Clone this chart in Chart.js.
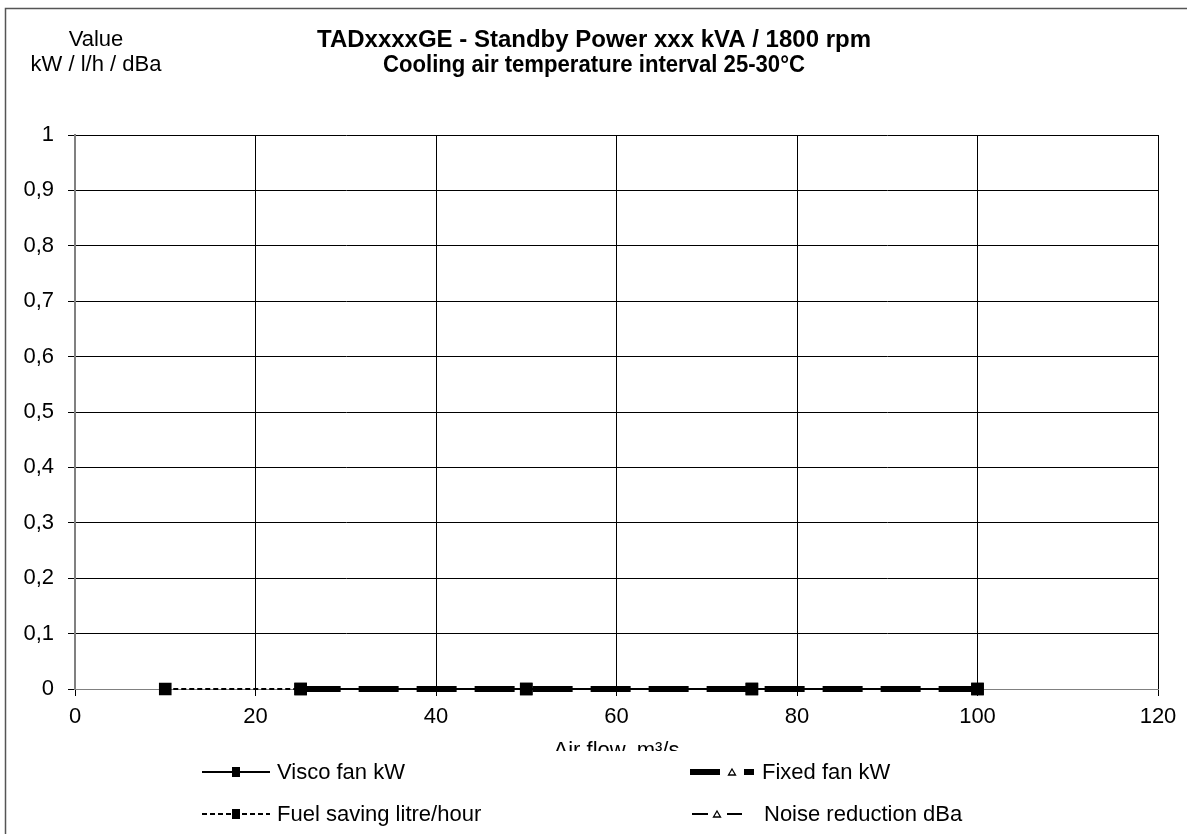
<!DOCTYPE html>
<html>
<head>
<meta charset="utf-8">
<script src="https://cdn.jsdelivr.net/npm/chart.js@4.4.1/dist/chart.umd.min.js"></script>
<style>
  html, body { margin: 0; padding: 0; background: #fff; }
  #wrap { width: 1187px; height: 834px; }
</style>
</head>
<body>
<div id="wrap"><canvas id="chart" width="1187" height="834"></canvas></div>
<script>
let titulo = ["TADxxxxGE - Standby Power xxx kVA / 1800 rpm", "Cooling air temperature interval 25-30°C"]
let titulo_y = ["Value", "kW / l/h / dBa"]
let titulo_x = "Air flow, m³/s"
let nomes = ["Visco fan kW", "Fixed fan kW", "Fuel saving litre/hour", "Noise reduction dBa"]
let fluxo_visco = [25, 50, 75, 100]
let valor_visco = [0, 0, 0, 0]
let fluxo_fixo = [25, 50, 75, 100]
let valor_fixo = [0, 0, 0, 0]
let fluxo_comb = [10, 25, 50, 75, 100]
let valor_comb = [0, 0, 0, 0, 0]
let fluxo_ruido = [25, 50, 75, 100]
let valor_ruido = [0, 0, 0, 0]
let ticks_x = [0, 20, 40, 60, 80, 100, 120]
let ticks_y = [0, 0.1, 0.2, 0.3, 0.4, 0.5, 0.6, 0.7, 0.8, 0.9, 1]

const FONTE = "'Liberation Sans', Arial, sans-serif"

function pontos(xs, ys) {
  return xs.map((x, i) => ({ x: x, y: ys[i] }))
}

// moldura, titulos e legenda desenhados a mao
const extras = {
  id: 'extras',
  beforeDraw(chart) {
    const c = chart.ctx
    c.save()
    c.fillStyle = '#fff'
    c.fillRect(0, 0, chart.width, chart.height)
    c.restore()
  },
  afterDraw(chart) {
    const c = chart.ctx
    c.save()
    c.strokeStyle = '#555'
    c.lineWidth = 1.5
    c.strokeRect(5.5, 8.5, 1300, 900)

    c.fillStyle = '#000'
    c.textAlign = 'center'
    c.textBaseline = 'middle'
    c.font = 'bold 24px ' + FONTE
    c.fillText(titulo[0], 594, 40, 554)
    c.fillText(titulo[1], 594, 65, 422)
    c.font = '22px ' + FONTE
    c.fillText(titulo_y[0], 96, 40)
    c.fillText(titulo_y[1], 96, 65)

    // legenda por cima do titulo do eixo x (como no original)
    c.fillStyle = '#fff'
    c.fillRect(150, 751, 900, 83)

    // [x inicio, y, comprimento da amostra, x do texto, x do marcador]
    const pos = [[202, 772, 68, 277, 236], [690, 772, 64, 762, 732], [202, 814, 68, 277, 236], [692, 814, 50, 764, 717]]
    chart.data.datasets.forEach((ds, i) => {
      const [x, y, comp, tx, mx] = pos[i]
      c.strokeStyle = '#000'
      c.lineWidth = ds.borderWidth
      c.setLineDash(ds.legendDash || [])
      c.beginPath()
      c.moveTo(x, y)
      c.lineTo(x + comp, y)
      c.stroke()
      c.setLineDash([])
      if (ds.pointStyle === 'rect') {
        c.fillStyle = '#000'
        c.fillRect(mx - 4, y - 5, 8, 10)
      } else {
        c.fillStyle = '#fff'
        c.fillRect(mx - 5, y - 7, 10, 14)
        c.lineWidth = 1.3
        c.beginPath()
        c.moveTo(mx, y - 3)
        c.lineTo(mx + 3.5, y + 3)
        c.lineTo(mx - 3.5, y + 3)
        c.closePath()
        c.stroke()
      }
      c.fillStyle = '#000'
      c.textAlign = 'left'
      c.font = '22px ' + FONTE
      c.fillText(ds.label, tx, y + 1)
    })
    c.restore()
  }
}

var ctx = document.getElementById('chart').getContext('2d')

var grafico = new Chart(ctx, {
  type: 'scatter',
  data: {
    datasets: [{
      label: nomes[0],
      data: pontos(fluxo_visco, valor_visco),
      showLine: true,
      clip: false,
      borderColor: '#000',
      backgroundColor: '#000',
      borderWidth: 2,
      pointStyle: 'rect',
      pointRadius: 7.5,
      order: 1
    }, {
      label: nomes[1],
      data: pontos(fluxo_fixo, valor_fixo),
      showLine: true,
      clip: false,
      borderColor: '#000',
      backgroundColor: '#fff',
      borderWidth: 6,
      borderDash: [40, 18],
      legendDash: [30, 24, 10],
      pointStyle: 'triangle',
      pointRadius: 3,
      pointBorderWidth: 1,
      order: 3
    }, {
      label: nomes[2],
      data: pontos(fluxo_comb, valor_comb),
      showLine: true,
      clip: false,
      borderColor: '#000',
      backgroundColor: '#000',
      borderWidth: 2,
      borderDash: [5, 3],
      legendDash: [5, 3],
      pointStyle: 'rect',
      pointRadius: 7.5,
      order: 2
    }, {
      label: nomes[3],
      data: pontos(fluxo_ruido, valor_ruido),
      showLine: true,
      clip: false,
      borderColor: '#000',
      backgroundColor: '#fff',
      borderWidth: 2,
      borderDash: [14, 6, 4, 6],
      legendDash: [16, 19, 16, 20],
      pointStyle: 'triangle',
      pointRadius: 3,
      pointBorderWidth: 1,
      order: 4
    }]
  },
  options: {
    responsive: false,
    animation: false,
    layout: { padding: { top: 135, left: 0, right: 29, bottom: 0 } },
    plugins: {
      legend: { display: false },
      title: { display: false },
      tooltip: { enabled: false }
    },
    scales: {
      x: {
        type: 'linear',
        min: 0,
        max: 120,
        afterBuildTicks: (s) => { s.ticks = ticks_x.map(v => ({ value: v })) },
        afterFit: (s) => { s.height = 145 },
        ticks: {
          color: '#000',
          padding: 8,
          font: { family: FONTE, size: 22 }
        },
        grid: { color: '#000', lineWidth: 1, tickLength: 7 },
        border: { color: '#808080', width: 1 },
        title: {
          display: true,
          text: titulo_x,
          color: '#000',
          font: { family: FONTE, size: 22 },
          padding: { top: 0, bottom: 70 }
        }
      },
      y: {
        min: 0,
        max: 1,
        afterBuildTicks: (s) => { s.ticks = ticks_y.map(v => ({ value: v })) },
        afterFit: (s) => { s.width = 75 },
        ticks: {
          color: '#000',
          padding: 14,
          font: { family: FONTE, size: 22 },
          callback: (v) => String(Math.round(v * 10) / 10).replace('.', ',')
        },
        grid: { color: '#000', lineWidth: 1, tickLength: 7 },
        border: { color: '#808080', width: 2 }
      }
    }
  },
  plugins: [extras]
})
</script>
</body>
</html>
